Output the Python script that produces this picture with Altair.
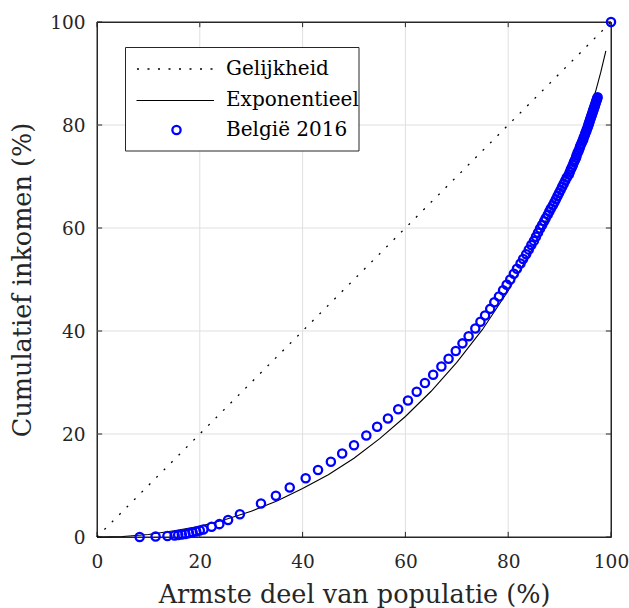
import altair as alt
import pandas as pd

# ---- data ----
eq_x = [0, 100]
eq_y = [0, 100]

exp_x = [0, 5, 10, 15, 20, 25, 30, 35, 40, 45, 50, 55, 60, 65, 70, 75, 80, 85, 90, 93, 95, 97, 98, 99]
exp_y = [0, 0.1, 0.5, 1.2, 2.1, 3.4, 5.0, 7.0, 9.4, 12.1, 15.3, 19.1, 23.4, 28.3, 33.9, 40.3, 47.8, 56.5, 67.0, 74.4, 80.0, 86.5, 90.2, 94.4]

be_x = [8.3, 11.4, 13.7, 15.1, 15.8, 16.5, 17.2, 17.9, 18.6, 19.3, 20.0, 20.7, 22.3, 23.8, 25.5, 27.8,
        31.9, 34.8, 37.5, 40.6, 43.0, 45.5, 47.7, 50.0, 52.4, 54.5, 56.6, 58.6, 60.5, 62.2, 63.8, 65.4,
        67.0, 68.4, 69.8, 71.1, 72.3, 73.6, 74.6, 75.5, 76.5, 77.3, 78.2, 79.0, 79.7, 80.4, 81.1, 81.7,
        82.4, 82.9, 83.5, 84.0, 84.5, 85.0, 85.4, 85.8, 86.2, 86.6, 87.0, 87.3, 87.7, 88.0, 88.3, 88.7,
        89.0, 89.3, 89.6, 89.9, 90.2, 90.5, 90.8, 91.1, 91.4, 91.8, 92.0, 92.2, 92.4, 92.6, 92.8, 93.0,
        93.2, 93.3, 93.5, 93.7, 93.9, 94.0, 94.2, 94.4, 94.6, 94.7, 94.9, 95.0, 95.2, 95.3, 95.5, 95.6,
        95.7, 95.8, 95.9, 96.0, 96.1, 96.2, 96.3, 96.4, 96.5, 96.6, 96.7, 96.8, 96.9, 97.0, 97.1, 97.2,
        97.3, 97.4, 100.0]
be_y = [0.0, 0.1, 0.2, 0.3, 0.4, 0.5, 0.6, 0.75, 0.9, 1.05, 1.25, 1.45, 2.0, 2.5, 3.3, 4.4,
        6.5, 8.0, 9.6, 11.4, 13.0, 14.6, 16.2, 17.8, 19.7, 21.4, 23.0, 24.8, 26.5, 28.2, 29.9, 31.5,
        33.1, 34.6, 36.1, 37.6, 39.0, 40.5, 41.8, 43.0, 44.3, 45.6, 46.7, 47.9, 49.0, 50.0, 51.1, 52.1,
        53.1, 54.0, 54.9, 55.8, 56.7, 57.5, 58.3, 59.1, 59.9, 60.6, 61.3, 61.9, 62.6, 63.2, 63.8, 64.4,
        65.0, 65.6, 66.2, 66.8, 67.4, 68.0, 68.6, 69.2, 69.8, 70.4, 70.9, 71.4, 71.8, 72.3, 72.8, 73.2,
        73.7, 74.1, 74.6, 75.0, 75.5, 75.9, 76.3, 76.8, 77.2, 77.6, 78.0, 78.4, 78.8, 79.2, 79.6, 80.0,
        80.3, 80.6, 80.9, 81.2, 81.5, 81.8, 82.1, 82.4, 82.7, 83.0, 83.3, 83.6, 83.9, 84.2, 84.5, 84.8,
        85.1, 85.4, 100.0]

tick_vals = [0, 20, 40, 60, 80, 100]
grid_vals = [20, 40, 60, 80]
axis_lo, axis_hi = 0, 100
legend_labels = ["Gelijkheid", "Exponentieel", "België 2016"]

x_title = "Armste deel van populatie (%)"
y_title = "Cumulatief inkomen (%)"

FONT = "DejaVu Serif"
AX = "#262626"
TL = 1.0  # inward tick length in data units

eq_df = pd.DataFrame({"x": eq_x, "y": eq_y})
exp_df = pd.DataFrame({"x": exp_x, "y": exp_y})
be_df = pd.DataFrame({"x": be_x, "y": be_y})
grid_df = pd.DataFrame({"v": grid_vals})
box_df = pd.DataFrame({"x0": [axis_lo], "x1": [axis_hi], "y0": [axis_lo], "y1": [axis_hi]})
# inward ticks on all four sides
tick_rows = []
for v in tick_vals:
    tick_rows.append({"x0": v, "x1": v, "y0": axis_lo, "y1": axis_lo + TL})
    tick_rows.append({"x0": v, "x1": v, "y0": axis_hi - TL, "y1": axis_hi})
    tick_rows.append({"x0": axis_lo, "x1": axis_lo + TL, "y0": v, "y1": v})
    tick_rows.append({"x0": axis_hi - TL, "x1": axis_hi, "y0": v, "y1": v})
tick_df = pd.DataFrame(tick_rows)
one = pd.DataFrame({"a": [0]})

xs = alt.Scale(domain=[0, 100], nice=False, zero=False)
ys = alt.Scale(domain=[0, 100], nice=False, zero=False)

x_axis = alt.Axis(values=tick_vals, grid=False, ticks=False, domain=False, labelFont=FONT,
                  labelFontSize=18.5, labelColor=AX, labelPadding=15, labelFlush=False,
                  title=x_title, titleFont=FONT, titleFontSize=25.5, titleFontWeight="normal",
                  titleColor=AX, titlePadding=12, format="d")
y_axis = alt.Axis(values=tick_vals, grid=False, ticks=False, domain=False, labelFont=FONT,
                  labelFontSize=18.5, labelColor=AX, labelPadding=12, labelFlush=False,
                  title=y_title, titleFont=FONT, titleFontSize=25.5, titleFontWeight="normal",
                  titleColor=AX, titlePadding=14, format="d")

gx = alt.Chart(grid_df).mark_rule(color="#dfdfdf", strokeWidth=1).encode(
    x=alt.X("v:Q", scale=xs, axis=x_axis), y=alt.value(0), y2=alt.value(515))
gy = alt.Chart(grid_df).mark_rule(color="#dfdfdf", strokeWidth=1).encode(
    y=alt.Y("v:Q", scale=ys, axis=y_axis), x=alt.value(0), x2=alt.value(514))

box = alt.Chart(box_df).mark_rect(filled=False, stroke=AX, strokeWidth=1, opacity=1).encode(
    x="x0:Q", x2="x1", y="y0:Q", y2="y1")

ticks = alt.Chart(tick_df).mark_rule(color=AX, strokeWidth=1).encode(
    x="x0:Q", x2="x1", y="y0:Q", y2="y1")

eq = alt.Chart(eq_df).mark_line(color="black", strokeWidth=1.3, strokeDash=[2, 8.5]).encode(
    x="x:Q", y="y:Q")
ex = alt.Chart(exp_df).mark_line(color="black", strokeWidth=1.1).encode(x="x:Q", y="y:Q")
pts = alt.Chart(be_df).mark_point(shape="circle", filled=False, color="#0000ff",
                                  strokeWidth=2.3, size=68, opacity=1).encode(x="x:Q", y="y:Q")

# legend
lbox = alt.Chart(one).mark_rect(fill="white", stroke=AX, strokeWidth=1).encode(
    x=alt.value(28.5), x2=alt.value(262), y=alt.value(25.5), y2=alt.value(129))
l1 = alt.Chart(one).mark_rule(color="black", strokeWidth=1.3, strokeDash=[2, 8.5]).encode(
    x=alt.value(40), x2=alt.value(117), y=alt.value(47))
l2 = alt.Chart(one).mark_rule(color="black", strokeWidth=1.1).encode(
    x=alt.value(39.5), x2=alt.value(117), y=alt.value(78.5))
l3 = alt.Chart(one).mark_point(shape="circle", filled=False, color="#0000ff", strokeWidth=2.3,
                               size=68, opacity=1).encode(x=alt.value(79.5), y=alt.value(108))
ltxt = alt.Chart(pd.DataFrame({"t": legend_labels, "yy": [46.5, 78, 107.5]})).mark_text(
    font=FONT, fontSize=20, align="left", baseline="middle", color="black").encode(
    text="t:N", x=alt.value(129), y=alt.Y("yy:Q", scale=None))

chart = alt.layer(gx, gy, box, ticks, eq, ex, pts, lbox, l1, l2, l3, ltxt).properties(
    width=514, height=515,
    padding={"left": 97, "top": 22, "right": 18, "bottom": 71},
    autosize=alt.AutoSizeParams(type="none"),
    background="white",
).configure_view(stroke=AX, strokeWidth=1)

chart.save("out.html", embed_options={"renderer": "svg", "actions": False})
